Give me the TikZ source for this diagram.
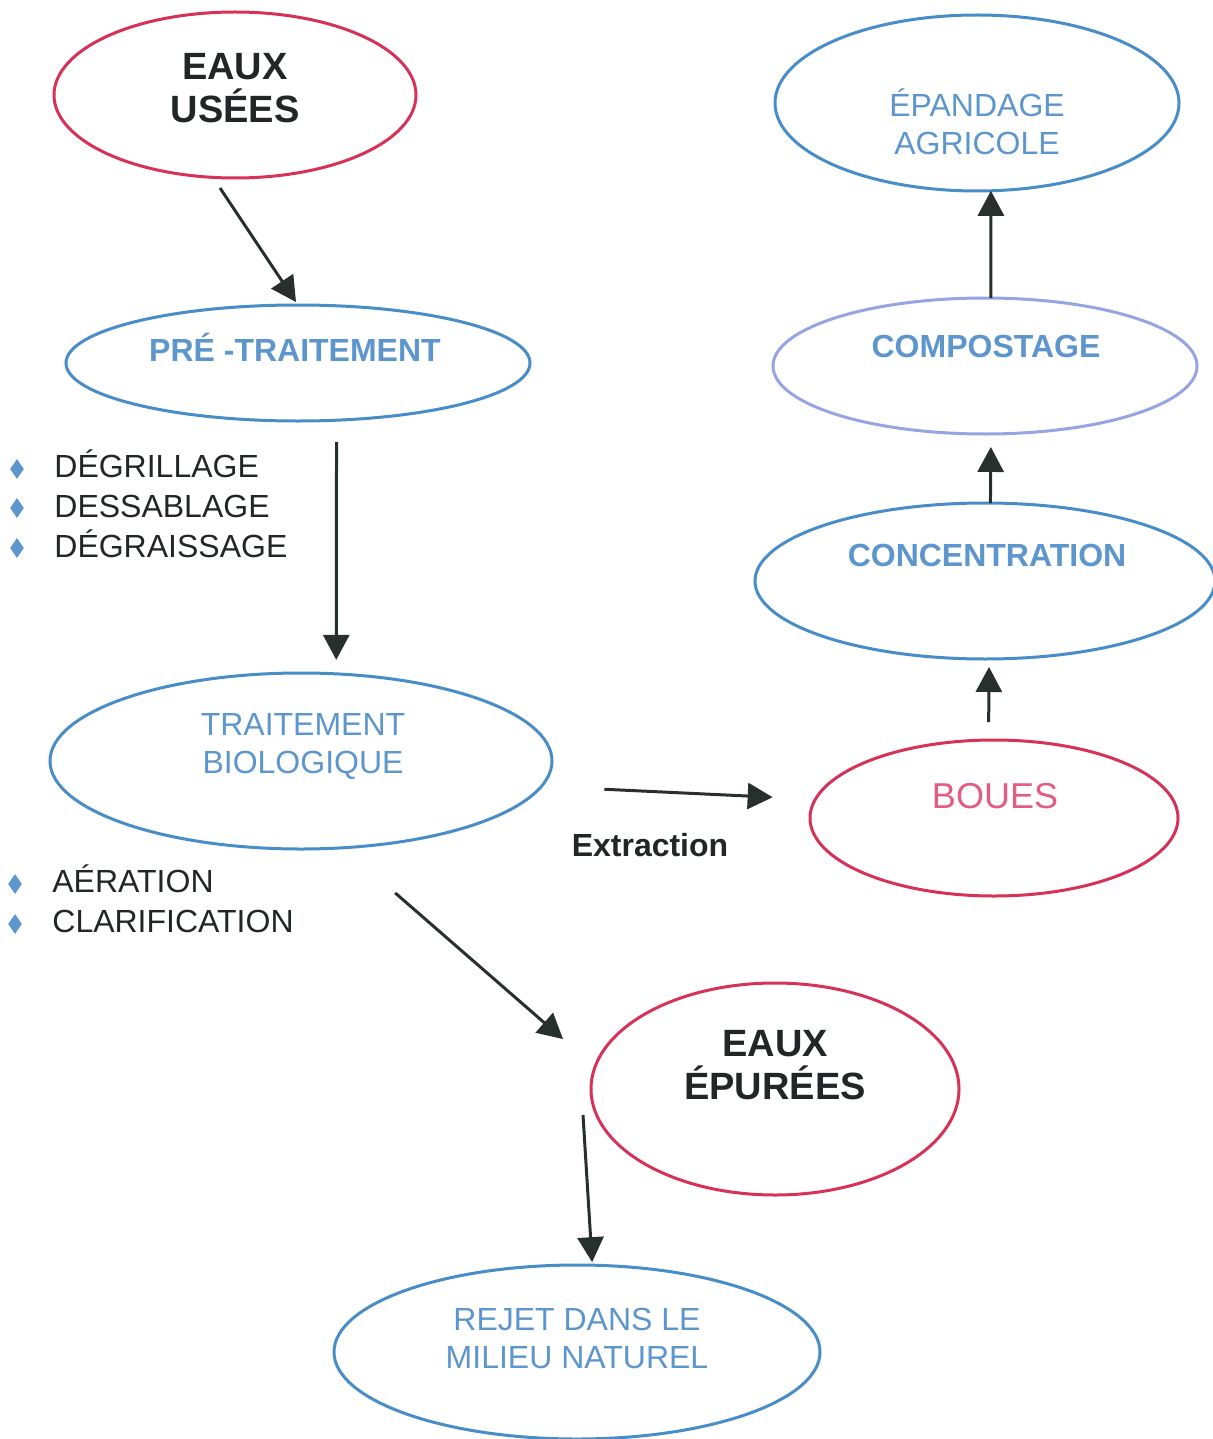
\documentclass[tikz,border=0pt]{standalone}
\usepackage{fontspec}
\setmainfont{Liberation Sans}
\usetikzlibrary{shapes.geometric,arrows.meta}
\definecolor{ellred}{RGB}{214,50,88}
\definecolor{ellblue}{RGB}{72,140,200}
\definecolor{elllav}{RGB}{150,165,225}
\definecolor{txtblue}{RGB}{92,150,205}
\definecolor{txtdark}{RGB}{35,38,38}
\definecolor{arrdark}{RGB}{40,48,45}
\definecolor{txtpink}{RGB}{226,92,132}
\begin{document}
\begin{tikzpicture}[x=0.5pt,y=-0.5pt,
  ell/.style={ellipse,draw,line width=1.5pt,inner sep=0pt,outer sep=0pt},
  redell/.style={ell,draw=ellred},
  blueell/.style={ell,draw=ellblue},
  lavell/.style={ell,draw=elllav},
  arr/.style={draw=arrdark,line width=1.5pt,-{Triangle[length=12.5pt,width=13pt]}},
  bigtxt/.style={font=\fontsize{19pt}{21.5pt}\selectfont\bfseries,text=txtdark,align=center,inner sep=0pt},
  bluereg/.style={font=\fontsize{16pt}{19pt}\selectfont,text=txtblue,align=center,inner sep=0pt},
  bluebold/.style={font=\fontsize{16pt}{19pt}\selectfont\bfseries,text=txtblue,inner sep=0pt,anchor=base},
  pinktxt/.style={font=\fontsize{18pt}{21pt}\selectfont,text=txtpink,inner sep=0pt,anchor=base},
  listtxt/.style={font=\fontsize{16pt}{19pt}\selectfont,text=txtdark,inner sep=0pt,anchor=base west},
  bul/.style={diamond,fill=txtblue,inner sep=0pt,minimum width=7pt,minimum height=10pt},
  exttxt/.style={font=\fontsize{16pt}{19pt}\selectfont\bfseries,text=txtdark,inner sep=0pt,anchor=base}
]
\useasboundingbox (0,0) rectangle (1212,1439);

% ellipses
\node[redell,minimum width=181pt,minimum height=83pt] (eu) at (235,95) {};
\node[blueell,minimum width=232pt,minimum height=58pt] (pre) at (298,363) {};
\node[blueell,minimum width=251pt,minimum height=88pt] (bio) at (301,761) {};
\node[redell,minimum width=184pt,minimum height=106pt] (epu) at (775,1089) {};
\node[blueell,minimum width=243pt,minimum height=87pt] (rej) at (577,1352) {};
\node[redell,minimum width=184pt,minimum height=78pt] (bou) at (994,818) {};
\node[blueell,minimum width=230pt,minimum height=78pt] (con) at (985,581) {};
\node[lavell,minimum width=212pt,minimum height=68pt] (com) at (985,366) {};
\node[blueell,minimum width=202pt,minimum height=88pt] (epa) at (977,103) {};

% texts
\node[bigtxt] (teu) at (235,88) {EAUX\\USÉES};
\node[bluebold] (tpre) at (295,361.5) {PRÉ -TRAITEMENT};
\node[bluereg] (tbio) at (303,747) {TRAITEMENT\\BIOLOGIQUE};
\node[bigtxt] (tepu) at (775,1065) {EAUX\\ÉPURÉES};
\node[bluereg] (trej) at (577,1338) {REJET DANS LE\\MILIEU NATUREL};
\node[pinktxt] (tbou) at (995,808) {BOUES};
\node[bluebold] (tcon) at (987,566.5) {CONCENTRATION};
\node[bluebold] (tcom) at (986,357.5) {COMPOSTAGE};
\node[bluereg] (tepa) at (977,122) {ÉPANDAGE\\AGRICOLE};
\node[exttxt] (text) at (650,856.5) {Extraction};

% lists
\node[bul] (b1) at (17,469) {};
\node[bul] (b2) at (17,508) {};
\node[bul] (b3) at (17,548) {};
\node[listtxt] (l1) at (54,477.5) {DÉGRILLAGE};
\node[listtxt] (l2) at (54,517.5) {DESSABLAGE};
\node[listtxt] (l3) at (54,557.5) {DÉGRAISSAGE};
\node[bul] (b4) at (15,884) {};
\node[bul] (b5) at (15,924) {};
\node[listtxt] (l4) at (52,892.5) {AÉRATION};
\node[listtxt] (l5) at (52,932.5) {CLARIFICATION};

% arrows
\draw[arr,shorten <=6.4pt,shorten >=1.8pt] (eu.-105) -- (pre.90);
\draw[arr,shorten <=10.9pt,shorten >=7pt] (pre.-56.4) -- (bio.68.1);
\draw[arr,shorten <=34.4pt,shorten >=21.2pt] (bio.-64) -- (epu.173.3);
\draw[arr,shorten >=1.5pt] ([shift={(-8,26)}]epu.west) -- (rej.80.8);
\draw[arr,shorten <=31.5pt,shorten >=21.4pt] (bio.-6.2) -- (bou.174.3);
\draw[arr,shorten <=9pt,shorten >=4pt] (bou.94.4) -- (con.-87.8);
\draw[arr,shorten >=6.5pt] (con.86.3) -- (com.-85.8);
\draw[arr] (com.85.8) -- (epa.-81.6);
\end{tikzpicture}
\end{document}
